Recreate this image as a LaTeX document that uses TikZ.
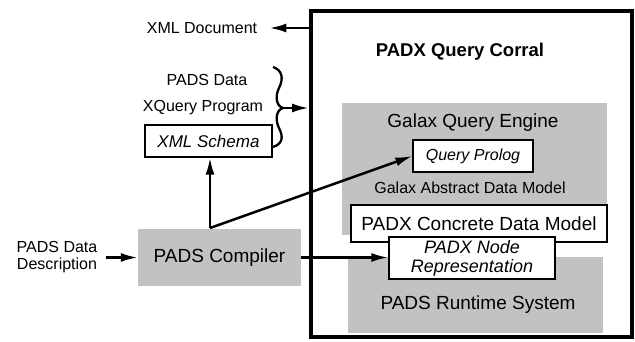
\documentclass[tikz,border=0pt]{standalone}
\usepackage{fontspec}
\setmainfont{Liberation Sans}
\usepackage{tikz}
\usetikzlibrary{shapes,arrows.meta,positioning}
\definecolor{boxgray}{RGB}{194,194,194}
\tikzset{
	smalltxt/.style={font=\fontsize{16}{17}\selectfont,inner sep=0pt},
	bigtxt/.style={font=\fontsize{19}{20}\selectfont,inner sep=0pt},
	graybox/.style={fill=boxgray,draw=none,inner sep=0pt},
	whitebox/.style={fill=white,draw=black,line width=1.2pt,inner sep=0pt},
	conn/.style={line width=2.5pt,-{Latex[length=17pt,width=9pt]}},
}
\begin{document}
\begin{tikzpicture}[x=1pt,y=-1pt]
			\useasboundingbox (0,0) rectangle (635,341);
			\node[draw,line width=4pt,minimum width=321,minimum height=326] (corral) at (471.5,174) {};
			\node[font=\fontsize{18.5}{20}\selectfont\bfseries,inner sep=0pt] (title) at (460,52) {PADX Query Corral};
			\node[graybox,minimum width=265,minimum height=132] (galax) at (474.5,169) {};
			\node[bigtxt] (galaxtitle) at (473,123) {Galax Query Engine};
			\node[whitebox,minimum width=120,minimum height=32,font=\fontsize{16}{17}\selectfont\itshape] (prolog) at (473,156) {Query Prolog};
			\node[smalltxt] (adm) at (470,188) {Galax Abstract Data Model};
			\node[graybox,minimum width=255,minimum height=76] (runtime) at (475.5,295) {};
			\node[bigtxt] (runtimetitle) at (478,305) {PADS Runtime System};
			\node[whitebox,minimum width=256,minimum height=37,font=\fontsize{19}{20}\selectfont] (concrete) at (479,223.5) {PADX Concrete Data Model};
			\node[whitebox,minimum width=166,minimum height=42,align=center,font=\fontsize{18}{19}\selectfont\itshape] (noderep) at (472,258) {PADX Node\\Representation};
			\node[graybox,minimum width=163,minimum height=57,bigtxt] (compiler) at (219.5,257.5) {PADS Compiler};
			\node[smalltxt,align=center] (desc) at (57,257) {PADS Data\\Description};
			\node[whitebox,minimum width=127,minimum height=32,font=\fontsize{17}{18}\selectfont\itshape] (schema) at (208.5,141) {XML Schema};
			\node[smalltxt] (padsdata) at (207,80) {PADS Data};
			\node[smalltxt] (xquery) at (203,108) {XQuery Program};
			\node[smalltxt] (xmldoc) at (202,28) {XML Document};
			\coordinate (split) at (210,228);
			\coordinate (bracetip) at (283,108);
			\draw[line width=2.3pt] (273,67) .. controls (282,70) and (284,78) .. (279,88) .. controls (275,96) and (276,106) .. (bracetip) .. controls (276,110) and (275,120) .. (279,128) .. controls (284,138) and (282,144) .. (273,147);
			\draw[conn] (bracetip) -- (bracetip -| corral.west);
			\draw[conn,shorten >=12pt] (corral.west |- xmldoc) -- (xmldoc.east);
			\draw[conn,shorten <=8pt] (desc.east |- compiler) -- (compiler.west);
			\draw[conn] (compiler.east) -- (compiler.east -| noderep.west);
			\draw[conn] (split) -- (split |- schema.south);
			\draw[conn] (split) -- (prolog.west);
		\end{tikzpicture}
\end{document}
